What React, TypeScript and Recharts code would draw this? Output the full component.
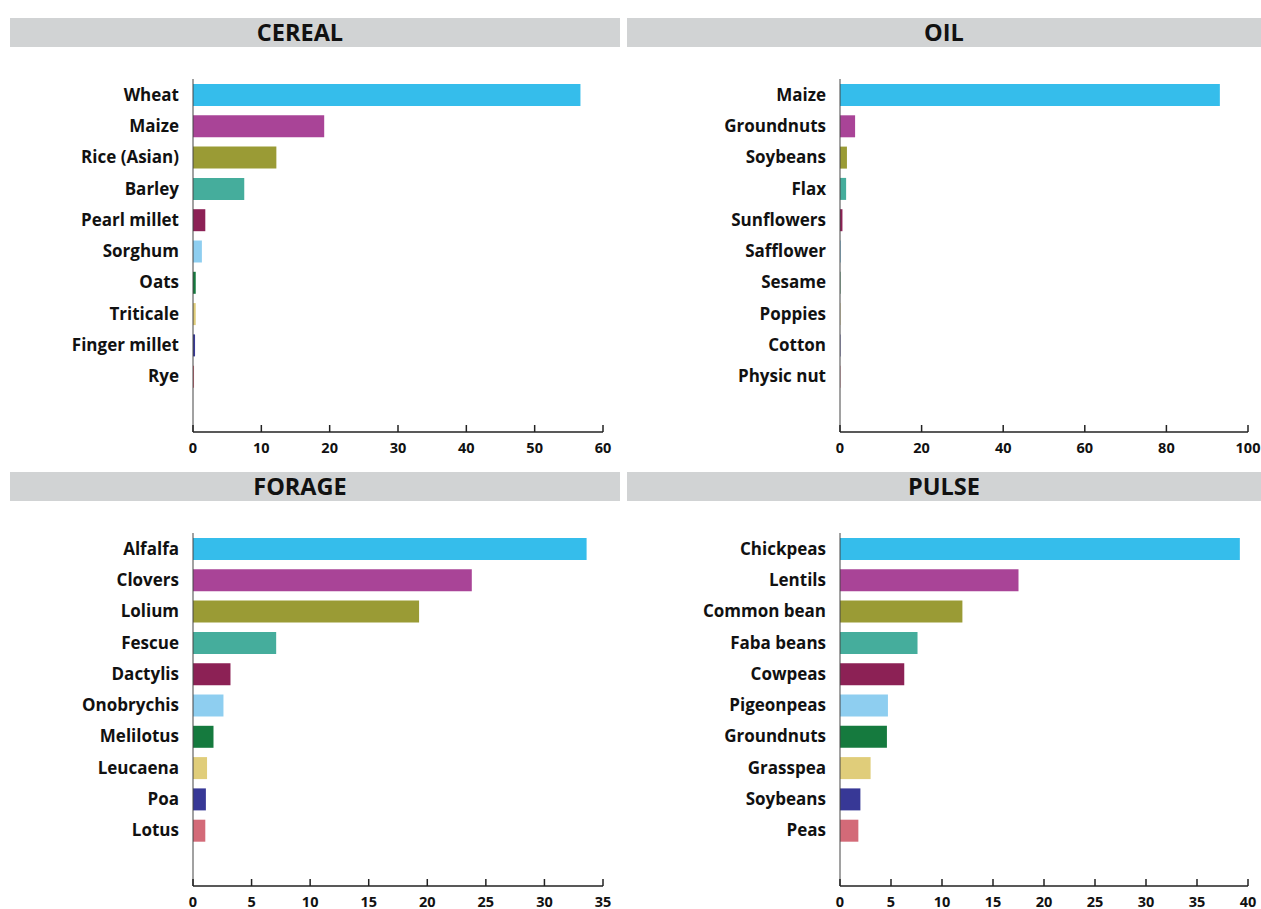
import React from "react"
import { Bar, BarChart, Cell, XAxis, YAxis } from "recharts"

// shared palette, by rank within each panel
const rankColors = [
  "#35BDEB",
  "#A94497",
  "#9A9B35",
  "#45AD9C",
  "#8C2155",
  "#8ECEF0",
  "#157A3E",
  "#E0CD7A",
  "#373896",
  "#D36A78",
]

const cerealCrops = ["Wheat", "Maize", "Rice (Asian)", "Barley", "Pearl millet", "Sorghum", "Oats", "Triticale", "Finger millet", "Rye"]
const cerealValues = [56.7, 19.2, 12.2, 7.5, 1.8, 1.3, 0.4, 0.4, 0.3, 0.15]
const cerealTicks = [0, 10, 20, 30, 40, 50, 60]

const oilCrops = ["Maize", "Groundnuts", "Soybeans", "Flax", "Sunflowers", "Safflower", "Sesame", "Poppies", "Cotton", "Physic nut"]
const oilValues = [93.1, 3.7, 1.7, 1.5, 0.6, 0.2, 0.1, 0.1, 0.1, 0.1]
const oilTicks = [0, 20, 40, 60, 80, 100]

const forageCrops = ["Alfalfa", "Clovers", "Lolium", "Fescue", "Dactylis", "Onobrychis", "Melilotus", "Leucaena", "Poa", "Lotus"]
const forageValues = [33.6, 23.8, 19.3, 7.1, 3.2, 2.6, 1.75, 1.2, 1.1, 1.05]
const forageTicks = [0, 5, 10, 15, 20, 25, 30, 35]

const pulseCrops = ["Chickpeas", "Lentils", "Common bean", "Faba beans", "Cowpeas", "Pigeonpeas", "Groundnuts", "Grasspea", "Soybeans", "Peas"]
const pulseValues = [39.2, 17.5, 12.0, 7.6, 6.3, 4.7, 4.6, 3.0, 2.0, 1.8]
const pulseTicks = [0, 5, 10, 15, 20, 25, 30, 35, 40]

const FONT = "'Open Sans', 'Noto Sans', sans-serif"

const BottomTick = (props: any) => {
  const { x, y, payload } = props
  return (
    <g>
      <line x1={x} x2={x} y1={y - 7} y2={y} stroke="#222" strokeWidth={1.5} />
      <text x={x} y={y + 21} textAnchor="middle" fontFamily={FONT} fontWeight={700} fontSize={14.5} fill="#111">
        {payload.value}
      </text>
    </g>
  )
}

interface PanelProps {
  title: string
  crops: string[]
  values: number[]
  ticks: number[]
  left: number
  top: number
  width: number
  labelWidth: number
  rightGap: number
}

function Panel({ title, crops, values, ticks, left, top, width, labelWidth, rightGap }: PanelProps) {
  const rows = crops.map((c, i) => ({ crop: c, value: values[i] }))
  const max = ticks[ticks.length - 1]
  const isLeft = left === 0
  return (
    <>
      <div
        style={{
          position: "absolute",
          left: isLeft ? 10 : 627,
          top: top + 18,
          width: isLeft ? 610 : 634,
          height: 29,
          boxSizing: "border-box",
          paddingRight: isLeft ? 30 : 0,
          background: "#D1D3D4",
          fontFamily: FONT,
          fontWeight: 700,
          fontSize: 23.5,
          lineHeight: "29px",
          textAlign: "center",
          color: "#111",
        }}
      >
        {title}
      </div>
      <div style={{ position: "absolute", left, top, width, height: 460 }}>
        <BarChart
          width={width}
          height={460}
          data={rows}
          layout="vertical"
          margin={{ top: 79, right: rightGap, left: 0, bottom: 3 }}
          barSize={22}
        >
          <XAxis
            type="number"
            domain={[0, max]}
            ticks={ticks}
            interval={0}
            tickSize={0}
            tickMargin={0}
            tickLine={false}
            tick={<BottomTick />}
            axisLine={{ stroke: "#222", strokeWidth: 1.5 }}
            height={25}
            allowDataOverflow
          />
          <YAxis
            type="category"
            dataKey="crop"
            width={labelWidth}
            interval={0}
            tickLine={false}
            tickSize={0}
            tickMargin={14}
            padding={{ top: 0, bottom: 40 }}
            axisLine={{ stroke: "#444", strokeWidth: 1 }}
            tick={{ fontFamily: FONT, fontWeight: 700, fontSize: 17, fill: "#111" }}
          />
          <Bar dataKey="value" isAnimationActive={false}>
            {rows.map((r, i) => (
              <Cell key={r.crop} fill={rankColors[i]} />
            ))}
          </Bar>
        </BarChart>
      </div>
    </>
  )
}

export default function App() {
  return (
    <div style={{ position: "absolute", left: 0, top: 0, width: 1261, height: 909, background: "#fff" }}>
      <Panel title="CEREAL" crops={cerealCrops} values={cerealValues} ticks={cerealTicks} left={0} top={0} width={620} labelWidth={193} rightGap={17} />
      <Panel title="OIL" crops={oilCrops} values={oilValues} ticks={oilTicks} left={617} top={0} width={644} labelWidth={223} rightGap={13} />
      <Panel title="FORAGE" crops={forageCrops} values={forageValues} ticks={forageTicks} left={0} top={454} width={620} labelWidth={193} rightGap={17} />
      <Panel title="PULSE" crops={pulseCrops} values={pulseValues} ticks={pulseTicks} left={617} top={454} width={644} labelWidth={223} rightGap={13} />
    </div>
  )
}
